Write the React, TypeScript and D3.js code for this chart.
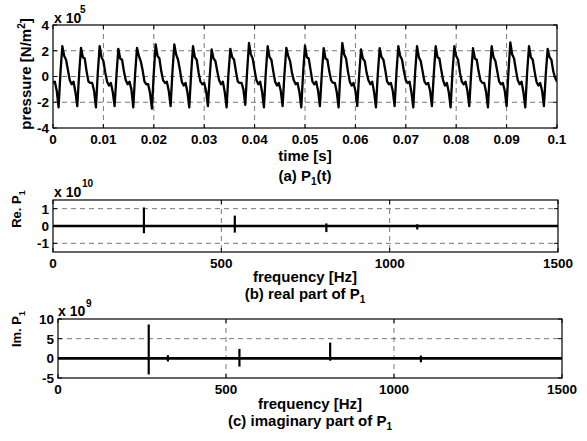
import React from 'react'
import * as d3 from 'd3'

const W = 587
const H = 441
const FONT = '"Liberation Sans", Arial, Helvetica, sans-serif'

// (a) pressure P1(t), units of 1e5 N/m^2, one sample every 0.1/270 s
const sampleStep = 0.1 / 270
const pressure = [
  -0.5, -0.4, -1.1,
  -2.4, 0.3, 2.36, 1.6, 1.3, 0.5, -0.3, -0.6, -0.4, -1.2,
  -2.3, 0.2, 2.23, 1.5, 1.4, 0.4, -0.4, -0.5, -0.5, -1.1,
  -2.4, 0.3, 2.36, 1.5, 1.2, 0.3, -0.4, -0.7, -0.5, -1.2,
  -2.3, 0.1, 2.15, 1.4, 1.3, 0.4, -0.3, -0.6, -0.4, -1.0,
  -2.4, 0.2, 2.23, 1.6, 1.2, 0.5, -0.4, -0.6, -0.6, -1.3,
  -2.5, 0.3, 2.49, 1.6, 1.4, 0.4, -0.3, -0.5, -0.4, -1.1,
  -2.3, 0.4, 2.49, 1.7, 1.3, 0.5, -0.4, -0.7, -0.5, -1.2,
  -2.4, 0.2, 2.36, 1.5, 1.3, 0.3, -0.4, -0.6, -0.5, -1.1,
  -2.3, 0.1, 2.1, 1.4, 1.2, 0.4, -0.3, -0.6, -0.4, -1.2,
  -2.4, 0.2, 2.15, 1.5, 1.3, 0.4, -0.4, -0.5, -0.5, -1.0,
  -2.2, 0.4, 2.6, 1.7, 1.4, 0.5, -0.3, -0.6, -0.4, -1.2,
  -2.4, 0.3, 2.36, 1.5, 1.3, 0.4, -0.4, -0.7, -0.5, -1.1,
  -2.3, 0.2, 2.23, 1.6, 1.2, 0.3, -0.3, -0.6, -0.5, -1.2,
  -2.4, 0.3, 2.4, 1.5, 1.4, 0.5, -0.4, -0.6, -0.4, -1.1,
  -2.3, 0.2, 2.2, 1.4, 1.3, 0.4, -0.3, -0.5, -0.5, -1.2,
  -2.4, 0.4, 2.6, 1.7, 1.4, 0.4, -0.4, -0.7, -0.5, -1.1,
  -2.3, 0.1, 2.1, 1.4, 1.2, 0.3, -0.3, -0.6, -0.4, -1.2,
  -2.4, 0.2, 2.2, 1.5, 1.3, 0.5, -0.4, -0.6, -0.5, -1.1,
  -2.3, 0.3, 2.35, 1.6, 1.3, 0.4, -0.3, -0.5, -0.4, -1.2,
  -2.4, 0.3, 2.35, 1.5, 1.2, 0.4, -0.4, -0.6, -0.5, -1.1,
  -2.3, 0.2, 2.35, 1.5, 1.4, 0.5, -0.3, -0.7, -0.5, -1.2,
  -2.4, 0.3, 2.35, 1.6, 1.3, 0.3, -0.4, -0.6, -0.4, -1.1,
  -2.3, 0.2, 2.2, 1.4, 1.3, 0.4, -0.3, -0.5, -0.5, -1.2,
  -2.4, 0.3, 2.35, 1.5, 1.2, 0.4, -0.4, -0.6, -0.5, -1.1,
  -2.3, 0.4, 2.65, 1.7, 1.4, 0.5, -0.3, -0.6, -0.4, -1.2,
  -2.4, 0.3, 2.35, 1.5, 1.3, 0.4, -0.4, -0.7, -0.5, -1.1,
  -2.3, 0.2, 2.15, 1.5, 1.3, 0.4, -0.1, -0.4
]
const timeTicks = [0, 0.01, 0.02, 0.03, 0.04, 0.05, 0.06, 0.07, 0.08, 0.09, 0.1]
const timeTickLabels = ['0', '0.01', '0.02', '0.03', '0.04', '0.05', '0.06', '0.07', '0.08', '0.09', '0.1']
const pressureTicks = [-4, -2, 0, 2, 4]

// (b) real part of the spectrum, units of 1e10
const reFreq = [270, 292, 310, 540, 812, 1082]
const reTop = [1.07, 0.06, 0.05, 0.6, 0.15, 0.1]
const reBottom = [-0.42, -0.06, -0.05, -0.38, -0.35, -0.2]
const reTicks = [-1, 0, 1]

// (c) imaginary part of the spectrum, units of 1e9
const imFreq = [270, 327, 360, 540, 810, 1080]
const imTop = [8.6, 0.8, 0.3, 2.4, 4.0, 0.7]
const imBottom = [-4.1, -0.8, -0.2, -2.1, -0.6, -1.0]
const imTicks = [-5, 0, 5, 10]

const freqTicks = [0, 500, 1000, 1500]

type Scale = d3.ScaleLinear<number, number>

interface AxesProps {
  id: string
  x: Scale
  y: Scale
  xTicks: number[]
  xLabels: string[]
  yTicks: number[]
  xGrid: number[]
  yGrid: number[]
  xLabelY: number
  yLabelX: number
  children?: React.ReactNode
}

function Axes ({ id, x, y, xTicks, xLabels, yTicks, xGrid, yGrid, xLabelY, yLabelX, children }: AxesProps) {
  const [l, r] = x.range()
  const [b, t] = y.range()
  const grid = { stroke: '#555', strokeWidth: 0.8, strokeDasharray: '5,4' }
  return (
    <g>
      <defs>
        <clipPath id={id}>
          <rect x={l} y={t} width={r - l} height={b - t} />
        </clipPath>
      </defs>
      {xGrid.map(v => <line key={'gx' + v} x1={x(v)} x2={x(v)} y1={t} y2={b} {...grid} />)}
      {yGrid.map(v => <line key={'gy' + v} x1={l} x2={r} y1={y(v)} y2={y(v)} {...grid} />)}
      <g clipPath={`url(#${id})`}>{children}</g>
      <rect x={l} y={t} width={r - l} height={b - t} fill='none' stroke='#000' strokeWidth={1.2} />
      {xTicks.map(v => (
        <g key={'tx' + v} stroke='#000' strokeWidth={1}>
          <line x1={x(v)} x2={x(v)} y1={b} y2={b - 4} />
          <line x1={x(v)} x2={x(v)} y1={t} y2={t + 4} />
        </g>
      ))}
      {yTicks.map(v => (
        <g key={'ty' + v} stroke='#000' strokeWidth={1}>
          <line x1={l} x2={l + 4} y1={y(v)} y2={y(v)} />
          <line x1={r} x2={r - 4} y1={y(v)} y2={y(v)} />
        </g>
      ))}
      {xTicks.map((v, i) => (
        <text key={'lx' + v} x={x(v)} y={xLabelY} textAnchor='middle' fontSize={13.5} fontWeight='bold'>
          {xLabels[i]}
        </text>
      ))}
      {yTicks.map(v => (
        <text key={'ly' + v} x={yLabelX} y={y(v)} dy='0.36em' textAnchor='end' fontSize={13.5} fontWeight='bold'>
          {v}
        </text>
      ))}
    </g>
  )
}

function Spikes ({ x, y, freq, top, bottom }: { x: Scale, y: Scale, freq: number[], top: number[], bottom: number[] }) {
  const seg = d3.line<[number, number]>().x(d => x(d[0])).y(d => y(d[1]))
  return (
    <g>
      <line x1={x(0)} x2={x(1500)} y1={y(0)} y2={y(0)} stroke='#000' strokeWidth={2.6} />
      {freq.map((f, i) => (
        <path key={f} d={seg([[f, top[i]], [f, bottom[i]]]) || ''} stroke='#000' strokeWidth={2.2} fill='none' />
      ))}
    </g>
  )
}

export default function App () {
  const xT = d3.scaleLinear().domain([0, 0.1]).range([53, 557])
  const yP = d3.scaleLinear().domain([-4, 4]).range([128, 25])
  const xB = d3.scaleLinear().domain([0, 1500]).range([53, 558])
  const yB = d3.scaleLinear().domain([-1.5, 1.5]).range([252, 200])
  const xC = d3.scaleLinear().domain([0, 1500]).range([58, 562])
  const yC = d3.scaleLinear().domain([-5, 10]).range([378, 319])

  const wave = d3.line<number>()
    .x((d, i) => xT(i * sampleStep))
    .y(d => yP(d))

  const freqLabels = freqTicks.map(String)

  return (
    <svg width={W} height={H} style={{ position: 'absolute', left: 0, top: 0, background: '#fff' }}
      fontFamily={FONT} fill='#000'>
      <rect width={W} height={H} fill='#fff' />

      {/* (a) time signal */}
      <Axes id='clipA' x={xT} y={yP} xTicks={timeTicks} xLabels={timeTickLabels} yTicks={pressureTicks}
        xGrid={timeTicks.slice(1, -1)} yGrid={[-2, 0, 2]} xLabelY={144} yLabelX={49}>
        <path d={wave(pressure) || ''} fill='none' stroke='#000' strokeWidth={2.3} strokeLinejoin='round' />
      </Axes>
      <text x={54} y={23} fontSize={14} fontWeight='bold'>x 10</text>
      <text x={80} y={13} fontSize={10} fontWeight='bold'>5</text>
      <text transform='translate(31,74) rotate(-90)' textAnchor='middle' fontSize={15} fontWeight='bold'>
        pressure [N/m<tspan dy={-6} fontSize={10}>2</tspan><tspan dy={6}>]</tspan>
      </text>
      <text x={305} y={161} textAnchor='middle' fontSize={15} fontWeight='bold'>time [s]</text>
      <text x={305} y={181} textAnchor='middle' fontSize={15} fontWeight='bold'>
        (a) P<tspan dy={4} fontSize={10}>1</tspan><tspan dy={-4}>(t)</tspan>
      </text>

      {/* (b) real part */}
      <Axes id='clipB' x={xB} y={yB} xTicks={freqTicks} xLabels={freqLabels} yTicks={reTicks}
        xGrid={[500, 1000]} yGrid={[-1, 1]} xLabelY={268} yLabelX={49}>
        <Spikes x={xB} y={yB} freq={reFreq} top={reTop} bottom={reBottom} />
      </Axes>
      <text x={54} y={197} fontSize={14} fontWeight='bold'>x 10</text>
      <text x={82} y={187} fontSize={10} fontWeight='bold'>10</text>
      <text transform='translate(21,209) rotate(-90)' textAnchor='middle' fontSize={13} fontWeight='bold'>
        Re. P<tspan dy={4} fontSize={9}>1</tspan>
      </text>
      <text x={305} y={282} textAnchor='middle' fontSize={15} fontWeight='bold'>frequency [Hz]</text>
      <text x={305} y={299} textAnchor='middle' fontSize={15} fontWeight='bold'>
        (b) real part of P<tspan dy={4} fontSize={10}>1</tspan>
      </text>

      {/* (c) imaginary part */}
      <Axes id='clipC' x={xC} y={yC} xTicks={freqTicks} xLabels={freqLabels} yTicks={imTicks}
        xGrid={[500, 1000]} yGrid={[5]} xLabelY={394} yLabelX={54}>
        <Spikes x={xC} y={yC} freq={imFreq} top={imTop} bottom={imBottom} />
      </Axes>
      <text x={58} y={316} fontSize={14} fontWeight='bold'>x 10</text>
      <text x={86} y={307} fontSize={10} fontWeight='bold'>9</text>
      <text transform='translate(21,329) rotate(-90)' textAnchor='middle' fontSize={13} fontWeight='bold'>
        Im. P<tspan dy={4} fontSize={9}>1</tspan>
      </text>
      <text x={310} y={409} textAnchor='middle' fontSize={15} fontWeight='bold'>frequency [Hz]</text>
      <text x={310} y={426} textAnchor='middle' fontSize={15} fontWeight='bold'>
        (c) imaginary part of P<tspan dy={4} fontSize={10}>1</tspan>
      </text>
    </svg>
  )
}
